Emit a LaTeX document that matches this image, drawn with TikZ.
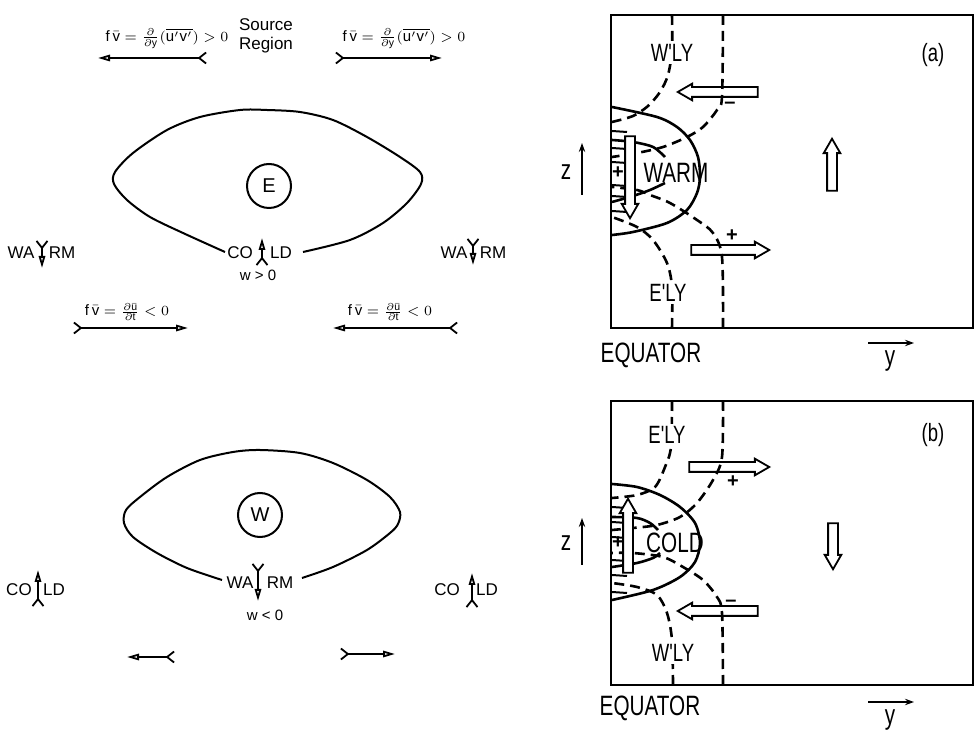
\documentclass[tikz,border=0pt]{standalone}
\usepackage{fontspec}
\setmainfont{Liberation Sans}
\newfontfamily\panelfont[FakeStretch=0.74]{Liberation Sans}
\usetikzlibrary{positioning,arrows.meta,shapes.arrows}

\begin{document}
\begin{tikzpicture}[
    x=0.5pt, y=-0.5pt,
    flow/.style={line width=0.9pt, arrows={{Straight Barb[reversed,length=3.5pt,width=5.5pt]}-{Triangle[open,length=6pt,width=3.2pt]}}},
    axis arrow/.style={line width=0.9pt, -{Stealth[length=4.5pt,width=3.2pt]}},
    contour/.style={line width=1.3pt},
    wind line/.style={line width=1.3pt, dash pattern=on 5pt off 3pt},
    hollow arrow/.style={single arrow, draw, line width=0.9pt, inner xsep=0pt, inner ysep=2pt, minimum width=0pt, single arrow head extend=1.7pt, single arrow tip angle=60},
    label text/.style={font=\fontsize{8.5}{9.5}\selectfont, inner sep=1pt, align=center},
    formula/.style={font=\fontsize{7.5}{8}\selectfont, inner sep=1pt},
    panel text/.style={font=\panelfont\fontsize{14}{14}\selectfont, inner sep=0pt},
    wind text/.style={font=\panelfont\fontsize{12.5}{13}\selectfont, fill=white, inner sep=1pt},
    sign/.style={font=\bfseries\fontsize{10}{10}\selectfont, inner sep=0pt}
]
  \useasboundingbox (0,0) rectangle (975,731);

  % upper left: E cell
  \node[formula] (flux l) at (167,38) {$\mathrm{f}\,\bar{\mathrm{v}}=\frac{\partial}{\partial\mathrm{y}}(\overline{\mathrm{u'v'}})>0$};
  \node[label text] (source) at (266,36) {Source\\Region};
  \node[formula] (flux r) at (404,38) {$\mathrm{f}\,\bar{\mathrm{v}}=\frac{\partial}{\partial\mathrm{y}}(\overline{\mathrm{u'v'}})>0$};
  \coordinate (ftl a) at (207,58);  \coordinate (ftl b) at (98,58);
  \coordinate (ftr a) at (335,58);  \coordinate (ftr b) at (442,58);
  \draw[flow] (ftl a) -- (ftl b);
  \draw[flow] (ftr a) -- (ftr b);

  \draw[contour, line width=1pt] plot[smooth] coordinates {(225,252) (183,233) (150,217) (127,200) (114,184) (115,172) (133,153) (167,130) (200,117) (240,110) (267,110) (300,112) (333,120) (367,137) (400,157) (420,172) (421,184) (407,203) (383,223) (350,240) (303,252)};
  \node[draw, circle, line width=1pt, minimum size=22pt, inner sep=0pt, font=\fontsize{10}{10}\selectfont] (eddy E) at (269,186) {E};

  \node[label text] (co up) at (240,253) {CO};
  \node[label text] (ld up) at (281,253) {LD};
  \coordinate (vu a) at (262,266); \coordinate (vu b) at (262,238);
  \draw[flow] (vu a) -- (vu b);
  \node[label text, font=\fontsize{7.5}{8}\selectfont] (wpos) at (258,275) {w > 0};

  \node[label text] (wa l) at (21,253) {WA};
  \node[label text] (rm l) at (62,253) {RM};
  \coordinate (vl a) at (42,240); \coordinate (vl b) at (42,268);
  \draw[flow] (vl a) -- (vl b);
  \node[label text] (wa r) at (454,253) {WA};
  \node[label text] (rm r) at (493,253) {RM};
  \coordinate (vr a) at (473,238); \coordinate (vr b) at (473,265);
  \draw[flow] (vr a) -- (vr b);

  \node[formula] (tend l) at (127,312) {$\mathrm{f}\,\bar{\mathrm{v}}=\frac{\partial\bar{\mathrm{u}}}{\partial\mathrm{t}}<0$};
  \node[formula] (tend r) at (390,312) {$\mathrm{f}\,\bar{\mathrm{v}}=\frac{\partial\bar{\mathrm{u}}}{\partial\mathrm{t}}<0$};
  \coordinate (fbl a) at (73,328);  \coordinate (fbl b) at (188,328);
  \coordinate (fbr a) at (458,328); \coordinate (fbr b) at (333,328);
  \draw[flow] (fbl a) -- (fbl b);
  \draw[flow] (fbr a) -- (fbr b);

  % lower left: W cell
  \draw[contour, line width=1pt] plot[smooth] coordinates {(222,580) (187,568) (157,553) (133,537) (124,523) (126,510) (140,497) (167,477) (200,460) (233,452) (260,450) (300,453) (333,463) (367,480) (390,497) (400,512) (398,524) (390,533) (367,550) (333,567) (302,578)};
  \node[draw, circle, line width=1pt, minimum size=22pt, inner sep=0pt, font=\fontsize{10}{10}\selectfont] (eddy W) at (260,515) {W};

  \node[label text] (wa dn) at (240,583) {WA};
  \node[label text] (rm dn) at (280,583) {RM};
  \coordinate (vd a) at (258,563); \coordinate (vd b) at (258,601);
  \draw[flow] (vd a) -- (vd b);
  \node[label text, font=\fontsize{7.5}{8}\selectfont] (wneg) at (265,615) {w < 0};

  \node[label text] (co l) at (19,590) {CO};
  \node[label text] (ld l) at (54,590) {LD};
  \coordinate (vcl a) at (38,607); \coordinate (vcl b) at (38,570);
  \draw[flow] (vcl a) -- (vcl b);
  \node[label text] (co r) at (447,590) {CO};
  \node[label text] (ld r) at (487,590) {LD};
  \coordinate (vcr a) at (472,608); \coordinate (vcr b) at (472,573);
  \draw[flow] (vcr a) -- (vcr b);

  \coordinate (fwl a) at (175,657); \coordinate (fwl b) at (127,657);
  \coordinate (fwr a) at (340,654); \coordinate (fwr b) at (395,654);
  \draw[flow] (fwl a) -- (fwl b);
  \draw[flow] (fwr a) -- (fwr b);

  % panel (a)
  \draw[contour] (611,15) rectangle (973,328);
  \draw[wind line] plot[smooth] coordinates {(672,15) (672,50) (668,75) (660,92) (648,106) (633,116) (612,122)};
  \draw[wind line] plot[smooth] coordinates {(723,15) (722,97) (717,110) (703,127) (687,137) (663,147) (637,153) (612,157)};
  \draw[wind line] plot[smooth] coordinates {(723,328) (722,257) (713,233) (697,220) (670,203) (650,195) (637,190) (612,187)};
  \draw[wind line] plot[smooth] coordinates {(672,328) (672,287) (667,263) (653,240) (637,227) (612,217)};
  \draw[contour] plot[smooth] coordinates {(612,107) (657,117) (677,127) (690,140) (698,157) (700,177) (697,193) (687,210) (667,223) (633,232) (612,235)};
  \draw[contour] plot[smooth] coordinates {(612,140) (633,142) (653,147) (665,157)};
  \draw[contour] plot[smooth] coordinates {(612,202) (633,196) (650,190) (665,183)};
  \foreach \hy in {131,148,162,185,196,211}
    \draw[contour, line width=1pt] (612,\hy) -- (627,\hy+1);

  \node[hollow arrow, minimum height=40pt, rotate=180] (out a) at (722,92) {};
  \node[hollow arrow, minimum height=39pt] (in a) at (726,250) {};
  \node[hollow arrow, fill=white, minimum height=41pt, rotate=-90] (sink a) at (630,173) {};
  \node[hollow arrow, minimum height=26pt, rotate=90] (rise a) at (832,169) {};

  \node[sign] (minus a) at (730,105) {--};
  \node[sign] (plus a) at (732,236) {+};
  \node[sign] (plus wa) at (618,173) {+};
  \node[wind text] (wly a) at (672,53) {W'LY};
  \node[wind text] (ely a) at (668,293) {E'LY};
  \node[panel text] (warm) at (676,173) {WARM};
  \node[wind text] (tag a) at (933,55) {(a)};
  \node[panel text] (eq a) at (651,355) {EQUATOR};
  \node[panel text] (y a) at (890,361) {y};
  \node[panel text] (z a) at (566,172) {z};
  \coordinate (ya a) at (868,343); \coordinate (ya b) at (914,343);
  \coordinate (za a) at (582,195); \coordinate (za b) at (582,143);
  \draw[axis arrow] (ya a) -- (ya b);
  \draw[axis arrow] (za a) -- (za b);

  % panel (b)
  \draw[contour] (611,401) rectangle (973,685);
  \draw[wind line] plot[smooth] coordinates {(672,401) (671,447) (665,467) (655,487) (637,495) (612,498)};
  \draw[wind line] plot[smooth] coordinates {(723,401) (722,457) (713,480) (697,503) (680,517) (657,525) (633,528) (612,530)};
  \draw[wind line] plot[smooth] coordinates {(723,685) (722,613) (717,597) (703,580) (683,567) (663,557) (633,553) (612,553)};
  \draw[wind line] plot[smooth] coordinates {(673,685) (672,640) (667,613) (657,595) (637,587) (612,583)};
  \draw[contour] plot[smooth] coordinates {(612,484) (637,487) (660,495) (680,507) (695,523) (700,543) (695,562) (680,577) (653,590) (612,600)};
  \draw[contour] plot[smooth] coordinates {(612,517) (637,518) (650,523) (658,530)};
  \draw[contour] plot[smooth] coordinates {(612,567) (637,563) (653,558) (660,553)};
  \foreach \hy in {507,522,537,560,575,592}
    \draw[contour, line width=1pt] (612,\hy) -- (627,\hy+1);

  \node[hollow arrow, minimum height=40pt] (out b) at (725,467) {};
  \node[hollow arrow, minimum height=40pt, rotate=180] (in b) at (722,611) {};
  \node[hollow arrow, fill=white, minimum height=37pt, rotate=90] (lift b) at (628,540) {};
  \node[hollow arrow, minimum height=23pt, rotate=-90] (sink b) at (833,542) {};

  \node[sign] (plus b) at (733,482) {+};
  \node[sign] (minus b) at (731,603) {--};
  \node[sign] (plus cb) at (618,543) {+};
  \node[wind text] (ely b) at (667,435) {E'LY};
  \node[wind text] (wly b) at (673,653) {W'LY};
  \node[panel text] (cold) at (675,543) {COLD};
  \node[wind text] (tag b) at (933,435) {(b)};
  \node[panel text] (eq b) at (650,708) {EQUATOR};
  \node[panel text] (y b) at (890,720) {y};
  \node[panel text] (z b) at (566,543) {z};
  \coordinate (yb a) at (868,702); \coordinate (yb b) at (914,702);
  \coordinate (zb a) at (582,565); \coordinate (zb b) at (582,518);
  \draw[axis arrow] (yb a) -- (yb b);
  \draw[axis arrow] (zb a) -- (zb b);
\end{tikzpicture}
\end{document}
